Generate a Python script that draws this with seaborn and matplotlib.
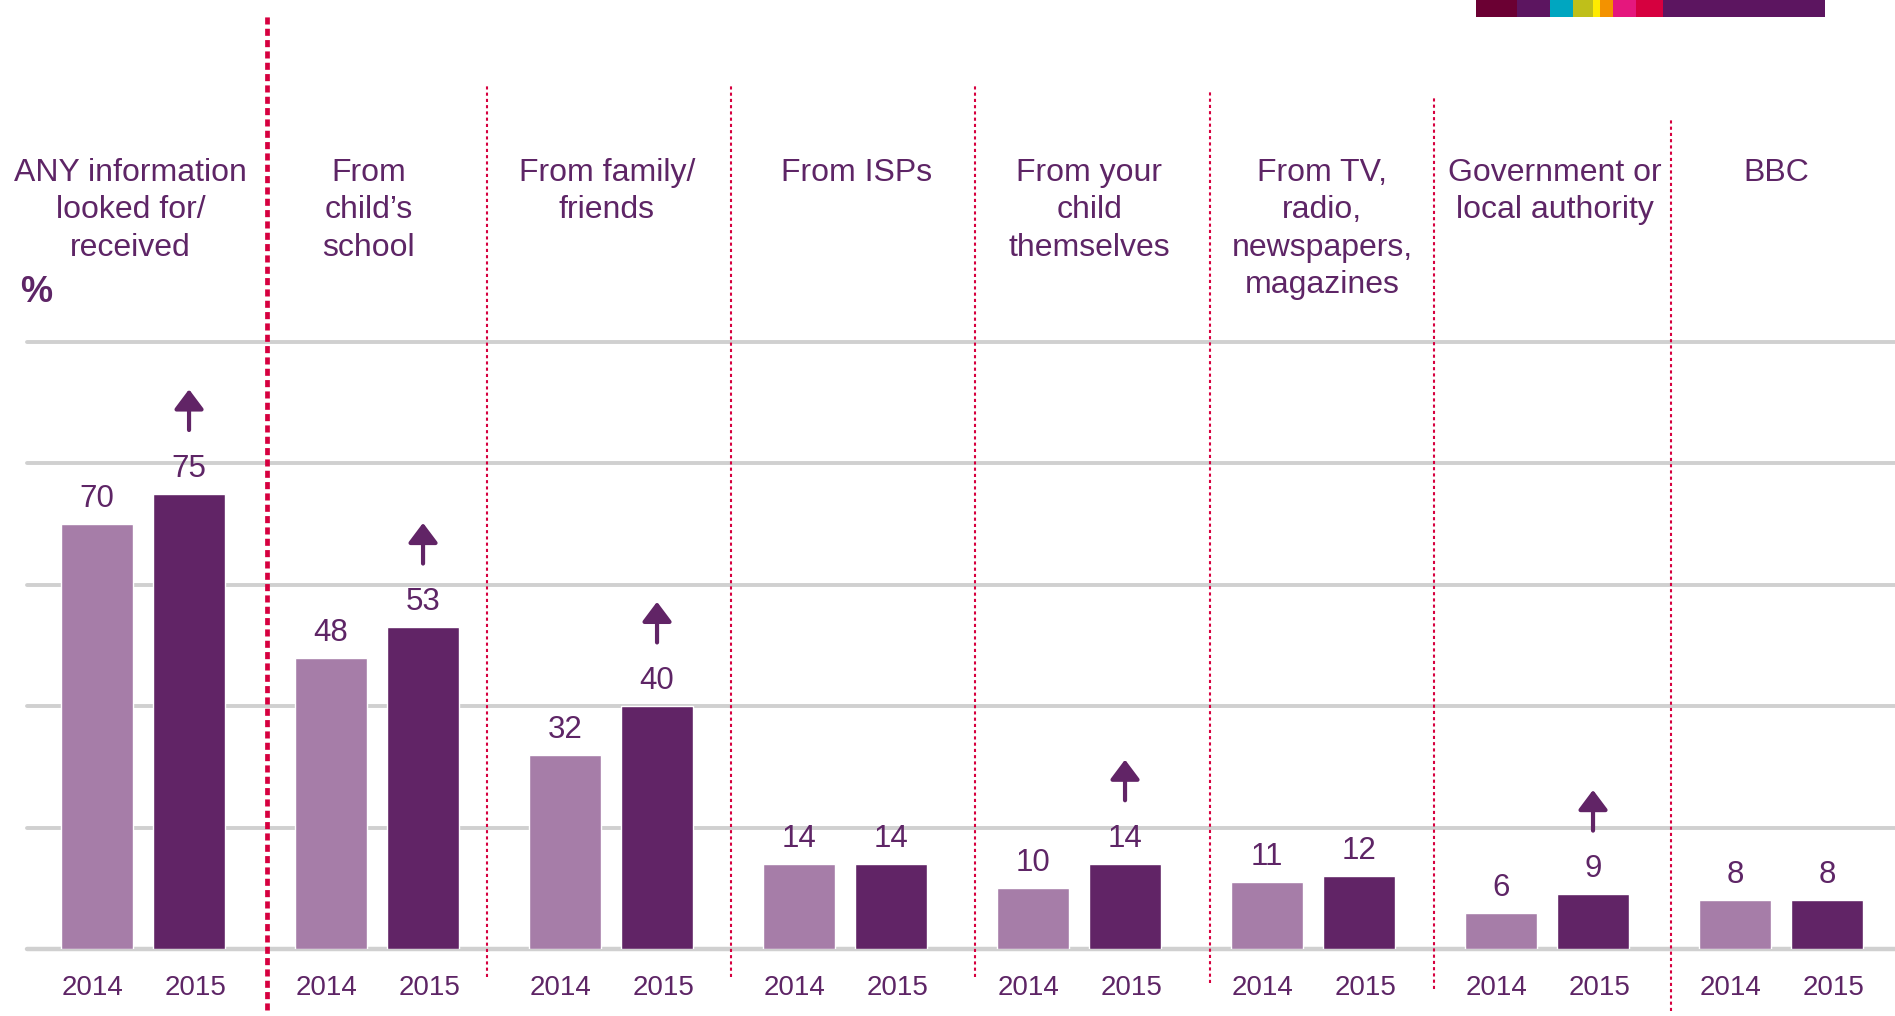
import pandas as pd
import matplotlib.pyplot as plt
import matplotlib.patches as mpatches
import seaborn as sns

# data
categories = ["ANY information\nlooked for/\nreceived", "From\nchild\u2019s\nschool", "From family/\nfriends",
              "From ISPs", "From your\nchild\nthemselves", "From TV,\nradio,\nnewspapers,\nmagazines",
              "Government or\nlocal authority", "BBC"]
years = ["2014", "2015"]
values_2014 = [70, 48, 32, 14, 10, 11, 6, 8]
values_2015 = [75, 53, 40, 14, 14, 12, 9, 8]
rise_2015 = [True, True, True, False, True, False, True, False]

LIGHT = "#A67DA8"
DARK = "#612466"
TEXT = "#5E2566"
GRID = "#D0D0D0"
RED = "#D6003F"

W, H = 1895, 1016

sns.set_theme(style="white")
plt.rcParams["font.family"] = ["Liberation Sans", "DejaVu Sans"]

df = pd.DataFrame({
    "category": categories * 2,
    "year": [years[0]] * len(categories) + [years[1]] * len(categories),
    "value": values_2014 + values_2015,
})

fig = plt.figure(figsize=(W / 100, H / 100), dpi=100)
ax = fig.add_axes([27 / W, (H - 949) / H, (W - 27) / W, 607 / H])

sns.barplot(data=df, x="category", y="value", hue="year", palette=[LIGHT, DARK],
            width=0.786, gap=0.224, saturation=1, legend=False, ax=ax, zorder=3)

ax.set_xlim(-0.496, 7.487)
ax.set_ylim(0, 100)
ax.set_xticks([])
ax.set_yticks([])
ax.set(xlabel="", ylabel="")
sns.despine(ax=ax, left=True, bottom=True)

# gridlines
for y in range(0, 101, 20):
    ax.axhline(y, color=GRID, lw=3.2 if y == 0 else 2.8, zorder=1, clip_on=False)

xt = ax.get_xaxis_transform()

# value labels, year labels, arrows
year_nudge = {"2014": -3.6, "2015": 5.0}
for year, container in zip(years, ax.containers):
    for i, bar in enumerate(container):
        cx = bar.get_x() + bar.get_width() / 2
        h = bar.get_height()
        ax.annotate(f"{h:.0f}", (cx, h), xytext=(0, 12.2), textcoords="offset points",
                    ha="center", va="baseline", fontsize=22.5, color=TEXT)
        ax.annotate(year, (cx, -0.075), xycoords=xt, xytext=(year_nudge[year], 0),
                    textcoords="offset points", ha="center", va="baseline",
                    fontsize=20, color=TEXT)
        if year == "2015" and rise_2015[i]:
            ax.annotate("", xy=(cx, h + 17.2), xytext=(cx, h + 10.5),
                        arrowprops=dict(arrowstyle="-|>,head_length=0.6,head_width=0.45",
                                        mutation_scale=20, lw=3.0, color=DARK,
                                        shrinkA=0, shrinkB=0), annotation_clip=False)

# category headings
head_nudge = [-0.053, -0.036, -0.018, 0.051, 0.043, 0.038, 0.034, -0.021]
for i, cat in enumerate(categories):
    ax.text(i + head_nudge[i], 1.303, cat, transform=xt, ha="center", va="top",
            fontsize=23, linespacing=1.32, multialignment="center", color=TEXT)

fig.text(20 / W, 1 - 302 / H, "%", fontsize=26, weight="bold", color=TEXT,
         ha="left", va="baseline")

# dotted separators between groups
sep_nudge = [0.03, -0.03, 0.013, 0.056, 0.06, 0.017, 0.03]
sep_top = [14, 85, 85, 85, 92, 97, 118]
sep_bot = [1010, 977, 977, 977, 983, 989, 1011]
for k in range(len(categories) - 1):
    xs = k + 0.5 + sep_nudge[k]
    y0 = (949 - sep_bot[k]) / 607
    y1 = (949 - sep_top[k]) / 607
    if k == 0:
        ax.plot([xs, xs], [y0, y1], transform=xt, color=RED, lw=3.4,
                dashes=(1.5, 0.9), clip_on=False, zorder=5)
    else:
        ax.plot([xs, xs], [y0, y1], transform=xt, color=RED, lw=1.5,
                dashes=(1.5, 1.5), clip_on=False, zorder=5)

# colour band top right
band = [(1476, 41, "#6B0033"), (1517, 33, "#5C1560"), (1550, 23, "#00A6C0"),
        (1573, 20, "#BFBF1A"), (1593, 7, "#FFEB00"), (1600, 13, "#F39200"),
        (1613, 23, "#E5177D"), (1636, 27, "#D6003F"), (1663, 162, "#5C1560")]
for x, w, c in band:
    fig.add_artist(mpatches.Rectangle((x / W, 1 - 17 / H), w / W, 17 / H,
                                      transform=fig.transFigure, color=c, lw=0))

fig.savefig("out.png", dpi=100)
